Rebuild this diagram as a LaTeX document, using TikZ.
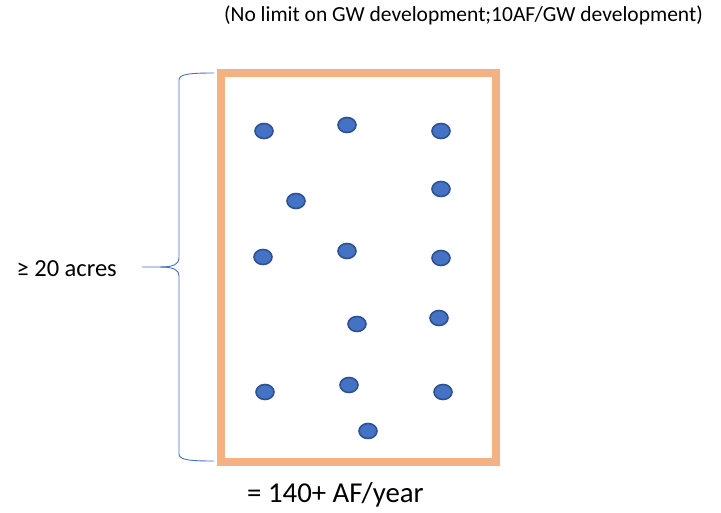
\documentclass[tikz,border=0pt]{standalone}
\usepackage{fontspec}
\usetikzlibrary{shapes.geometric}
\setmainfont{Carlito}
\begin{document}
\begin{tikzpicture}[x=1pt,y=-1pt,
  well/.style={ellipse,draw=wellborder,fill=wellfill,line width=1.6pt,minimum width=18pt,minimum height=15pt,inner sep=0pt},
  lbl/.style={inner sep=0pt,text=black}]
\definecolor{wellfill}{HTML}{4472C4}
\definecolor{wellborder}{HTML}{2F528F}
\definecolor{parcel}{HTML}{F4B183}
\definecolor{bracecol}{HTML}{4472C4}
\useasboundingbox (0,0) rectangle (721,512);
\node[draw=parcel,line width=7.5pt,minimum width=275pt,minimum height=389pt,inner sep=0pt] (lot) at (358.5,267.5) {};
\foreach \n/\x/\y in {a/264/131,b/347/125,c/441/131,d/296/201,e/441/189,f/263/257,g/347/251,h/441/258,i/357/324,j/439/318,k/265/392,l/349/385,m/443/392,n/368/431}
  \node[well] (\n) at (\x,\y) {};
\coordinate (btop) at (214,73);
\coordinate (bbot) at (214,461);
\coordinate (btip) at (142,267);
\draw[bracecol,line width=0.9pt] (btop) .. controls (190,73) and (179,74) .. (179,80) -- (179,258)
  .. controls (179,264) and (174,267) .. (160,267) -- (btip);
\draw[bracecol,line width=0.9pt] (bbot) .. controls (190,461) and (179,460) .. (179,454) -- (179,276)
  .. controls (179,270) and (174,267) .. (160,267);
\node[lbl,font=\fontsize{21.5}{24}\selectfont,anchor=east] (top) at (703,15) {(No limit on GW development;10AF/GW development)};
\node[lbl,font=\fontsize{24.5}{28}\selectfont,anchor=east] (acres) at (117,269) {≥ 20 acres};
\node[lbl,font=\fontsize{28.8}{32}\selectfont,anchor=west] (af) at (247,495) {= 140+ AF/year};
\end{tikzpicture}
\end{document}
